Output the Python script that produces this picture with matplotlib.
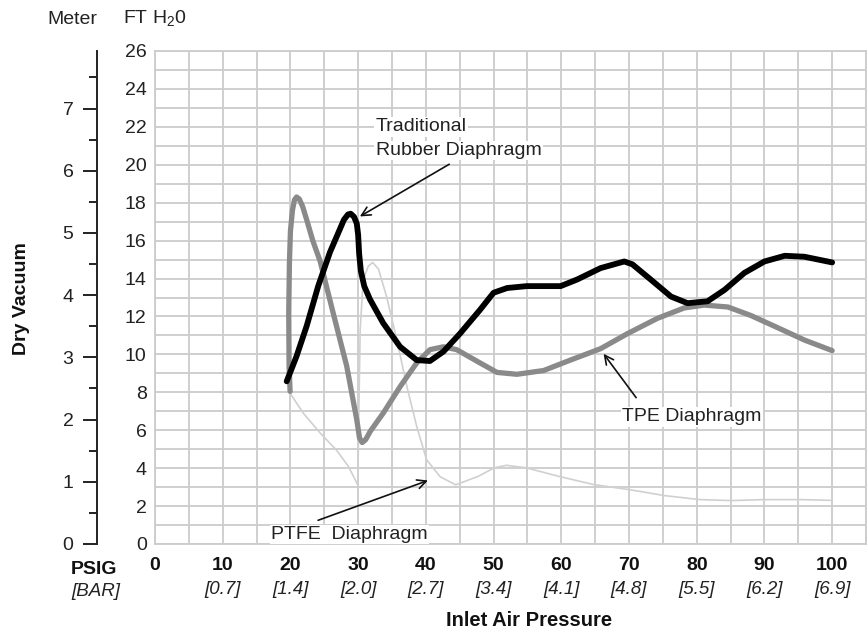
import matplotlib
matplotlib.use("Agg")
import matplotlib.pyplot as plt
from matplotlib.ticker import MultipleLocator

plt.rcParams['font.family'] = ['Liberation Sans', 'DejaVu Sans']
plt.rcParams['mathtext.fontset'] = 'custom'
plt.rcParams['mathtext.rm'] = 'Liberation Sans'

# axis ticks / labels
psig_ticks = [0, 10, 20, 30, 40, 50, 60, 70, 80, 90, 100]
bar_labels = ['', '[0.7]', '[1.4]', '[2.0]', '[2.7]', '[3.4]', '[4.1]',
              '[4.8]', '[5.5]', '[6.2]', '[6.9]']
ft_ticks = [0, 2, 4, 6, 8, 10, 12, 14, 16, 18, 20, 22, 24, 26]
meter_ticks = [0, 1, 2, 3, 4, 5, 6, 7]
FT_PER_M = 3.28084

# Traditional rubber diaphragm (black)
rubber_x = [19.45, 20.9, 22.4, 24.1, 25.85, 27.3, 27.9, 28.5, 28.9, 29.4, 29.8,
            30.0, 30.15, 30.4, 30.9, 31.75, 33.7, 36.2, 38.65, 40.6, 42.6, 45.05,
            48.0, 50.0, 52.0, 54.9, 59.9, 62.35, 65.8, 69.3, 70.5, 73.2, 76.2,
            78.65, 81.6, 84.1, 87.05, 90.0, 93.0, 95.9, 100.0]
rubber_y = [8.58, 9.9, 11.5, 13.6, 15.4, 16.6, 17.1, 17.38, 17.42, 17.25, 16.9,
            16.3, 15.3, 14.4, 13.6, 12.9, 11.65, 10.4, 9.7, 9.65, 10.15, 11.1,
            12.35, 13.25, 13.5, 13.6, 13.6, 13.95, 14.55, 14.9, 14.75, 13.95, 13.05,
            12.7, 12.8, 13.4, 14.3, 14.9, 15.2, 15.15, 14.85]

# TPE diaphragm (grey)
tpe_x = [19.95, 19.8, 19.75, 19.85, 20.0, 20.3, 20.6, 20.9, 21.3, 21.8, 22.4,
         23.3, 24.4, 26.3, 28.3, 29.8, 30.2, 30.6, 31.1, 31.8, 33.7, 36.2,
         38.65, 40.6, 42.6, 44.55, 47.5, 50.5, 53.45, 57.4, 61.35, 65.8, 69.8,
         74.2, 78.15, 81.1, 84.6, 88.0, 92.0, 95.95, 100.0]
tpe_y = [8.05, 9.4, 12.2, 14.8, 16.5, 17.6, 18.15, 18.3, 18.2, 17.8, 17.1,
         16.0, 14.9, 12.2, 9.4, 6.55, 5.6, 5.35, 5.5, 5.95, 6.9, 8.3,
         9.55, 10.25, 10.4, 10.25, 9.65, 9.05, 8.95, 9.15, 9.7, 10.3, 11.1,
         11.9, 12.45, 12.6, 12.5, 12.05, 11.4, 10.75, 10.2]

# PTFE diaphragm (light grey)
ptfe_x = [19.95, 21.9, 24.4, 26.8, 28.55, 29.55, 29.95, 30.1, 30.3, 30.75, 31.5,
          32.15, 33.0, 34.2, 35.7, 37.2, 38.65, 40.1, 42.1, 44.4, 47.8, 50.1,
          51.9, 54.8, 59.5, 64.7, 70.0, 75.3, 80.5, 85.1, 89.8, 95.6, 100.0]
ptfe_y = [7.95, 6.9, 5.85, 4.95, 4.1, 3.4, 3.1, 6.9, 11.3, 13.95, 14.65,
          14.85, 14.5, 13.05, 10.8, 8.3, 6.2, 4.45, 3.55, 3.12, 3.58, 4.02,
          4.15, 4.02, 3.58, 3.14, 2.87, 2.55, 2.34, 2.29, 2.34, 2.34, 2.3]

W, H = 868, 635
fig = plt.figure(figsize=(W / 100, H / 100), dpi=100)
ax = fig.add_axes([155 / W, 91 / H, 711 / W, 493 / H])

ax.set_xlim(0, 105)
ax.set_ylim(0, 26)
ax.xaxis.set_minor_locator(MultipleLocator(5))
ax.yaxis.set_minor_locator(MultipleLocator(1))
ax.grid(which='both', color='#cccccc', lw=1.3)
ax.set_axisbelow(True)
for s in ax.spines.values():
    s.set_color('#cccccc')
    s.set_linewidth(1.3)
ax.tick_params(which='both', length=0)

ax.set_xticks(psig_ticks)
ax.set_xticklabels([str(v) for v in psig_ticks], fontweight='bold',
                   fontsize=14, color='#111')
ax.tick_params(axis='x', pad=9)
ax.set_yticks(ft_ticks)
ax.set_yticklabels([str(v) for v in ft_ticks], fontsize=14, color='#222')
ax.tick_params(axis='y', pad=6)

tr = ax.get_xaxis_transform()
for v, lab in zip(psig_ticks, bar_labels):
    ax.text(v, -45 / 493, lab, transform=tr, ha='center', va='center',
            style='italic', fontsize=13.5, color='#222')

# curves
ax.plot(ptfe_x, ptfe_y, color='#d0d0d0', lw=1.2, zorder=3)
ax.plot(tpe_x, tpe_y, color='#8a8a8a', lw=3.8, zorder=4,
        solid_joinstyle='round', solid_capstyle='round')
ax.plot(rubber_x, rubber_y, color='#000000', lw=4.2, zorder=5,
        solid_joinstyle='round', solid_capstyle='round')

# meter axis
ax2 = ax.twinx()
ax2.set_ylim(0, 26 / FT_PER_M)
for k in ['right', 'top', 'bottom']:
    ax2.spines[k].set_visible(False)
ax2.spines['left'].set_visible(True)
ax2.spines['left'].set_position(('axes', (97 - 155) / 711))
ax2.spines['left'].set_color('#222')
ax2.spines['left'].set_linewidth(1.4)
ax2.yaxis.set_ticks_position('left')
ax2.set_yticks(meter_ticks)
ax2.set_yticklabels([str(v) for v in meter_ticks], fontsize=14, color='#222')
ax2.yaxis.set_minor_locator(MultipleLocator(0.5))
ax2.tick_params(which='major', length=10, width=1.4, color='#222', pad=7)
ax2.tick_params(which='minor', length=6, width=1.4, color='#222')

# annotations
txt_kw = dict(fontsize=14, color='#222', zorder=6,
              bbox=dict(facecolor='white', edgecolor='none', pad=1))
arr_kw = dict(arrowstyle='->', color='#111', lw=1.2, mutation_scale=16)
ax.text(32.6, 22.0, 'Traditional', ha='left', va='center', **txt_kw)
ax.text(32.6, 20.75, 'Rubber Diaphragm', ha='left', va='center', **txt_kw)
ax.annotate('', xy=(29.9, 17.2), xytext=(43.8, 20.1), arrowprops=arr_kw, zorder=6)
ax.text(79.3, 6.7, 'TPE Diaphragm', ha='center', va='center', **txt_kw)
ax.annotate('', xy=(66.0, 10.15), xytext=(71.3, 7.6), arrowprops=arr_kw, zorder=6)
ax.text(28.7, 0.5, 'PTFE  Diaphragm', ha='center', va='center', **txt_kw)
ax.annotate('', xy=(40.7, 3.4), xytext=(23.7, 1.2), arrowprops=arr_kw, zorder=6)

# outer labels
fig.text(72 / W, 1 - 20 / H, 'Meter', ha='center', va='center', fontsize=14, color='#222')
fig.text(155 / W, 1 - 19 / H, 'FT H$_2$0', ha='center', va='center', fontsize=14, color='#222')
fig.text(22 / W, 1 - 299 / H, 'Dry Vacuum', rotation=90, ha='center', va='center',
         fontsize=14, fontweight='bold', color='#111')
fig.text(94 / W, 1 - 569 / H, 'PSIG', ha='center', va='center',
         fontsize=14, fontweight='bold', color='#111')
fig.text(96 / W, 1 - 591 / H, '[BAR]', ha='center', va='center',
         fontsize=13.5, style='italic', color='#222')
fig.text(529 / W, 1 - 621 / H, 'Inlet Air Pressure', ha='center', va='center',
         fontsize=14.5, fontweight='bold', color='#111')

fig.savefig('out.png', dpi=100)
